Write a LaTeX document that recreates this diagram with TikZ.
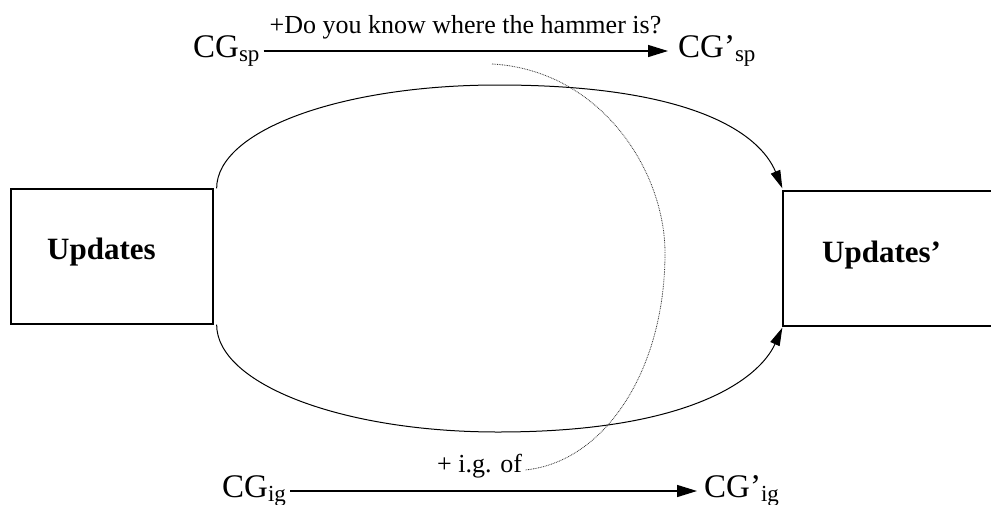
\documentclass[tikz,border=0pt]{standalone}
\usepackage{fontspec}
\setmainfont{Liberation Serif}
\usetikzlibrary{arrows.meta}
\newcommand\sbs[1]{\raisebox{-4pt}{\fontsize{23}{23}\selectfont #1}}
\tikzset{
  box/.style={draw, line width=1.3pt, inner sep=0pt},
  boxtext/.style={inner sep=0pt, font=\fontsize{31}{34}\selectfont\bfseries},
  cg/.style={inner sep=0pt, font=\fontsize{33}{36}\selectfont},
  lbl/.style={inner sep=0pt, font=\fontsize{26}{28}\selectfont},
  arr/.style={line width=1.4pt, -{Triangle[length=20pt,width=12pt]}},
  arc/.style={line width=1pt, -{Triangle[length=18pt,width=10pt]}},
  dots/.style={line width=0.8pt, black!80, dash pattern=on 0.8pt off 0.9pt}
}
\begin{document}
\begin{tikzpicture}[x=1pt,y=-1pt]
\clip (0,0) rectangle (991,504);
\fill[white] (0,0) rectangle (991,504);
% boxes
\node[box, minimum width=202pt, minimum height=135pt] (L) at (112,256.5) {};
\node[boxtext, anchor=base west] (Lt) at (47,259) {Updates};
\node[box, minimum width=212pt, minimum height=135pt] (R) at (889,258.5) {};
\node[boxtext, anchor=base west] (Rt) at (822,262) {Updates’};
% top row
\node[cg, anchor=base west] (sp) at (193,57) {CG\sbs{sp}};
\node[cg, anchor=base west] (sp2) at (678,57) {CG’\sbs{sp}};
\node[lbl, anchor=base] (q) at (465.5,33) {+Do you know where the hammer is?};
\draw[arr] ([xshift=4pt,yshift=6pt]sp.base east) -- ([xshift=-10pt,yshift=6pt]sp2.base west);
% bottom row
\node[cg, anchor=base west] (ig) at (222,497) {CG\sbs{ig}};
\node[cg, anchor=base west] (ig2) at (704,497) {CG’\sbs{ig}};
\node[lbl, anchor=base west] (of) at (437,472) {+ i.g. of};
\draw[arr] ([xshift=4pt,yshift=6pt]ig.base east) -- ([xshift=-7pt,yshift=6pt]ig2.base west);
% arcs
\coordinate (top) at (498,85);
\coordinate (bot) at (498,432);
\draw[arc] ([xshift=3pt]L.north east) .. controls +(0,-58) and +(-157,0) .. (top)
  .. controls +(192,0) and +(-23,-56) .. ([yshift=2pt]R.north west);
\draw[arc] ([xshift=3pt]L.south east) .. controls +(0,59) and +(-157,0) .. (bot)
  .. controls +(192,0) and +(-23,51) .. ([yshift=-1pt]R.south west);
% dotted curve
\coordinate (ds) at (492,64);
\coordinate (dm) at (665,253);
\draw[dots] (ds) .. controls (600,70) and (665,170) .. (dm)
  .. controls (665,370) and (605,462) .. ([xshift=3pt,yshift=2pt]of.base east);
\end{tikzpicture}
\end{document}
